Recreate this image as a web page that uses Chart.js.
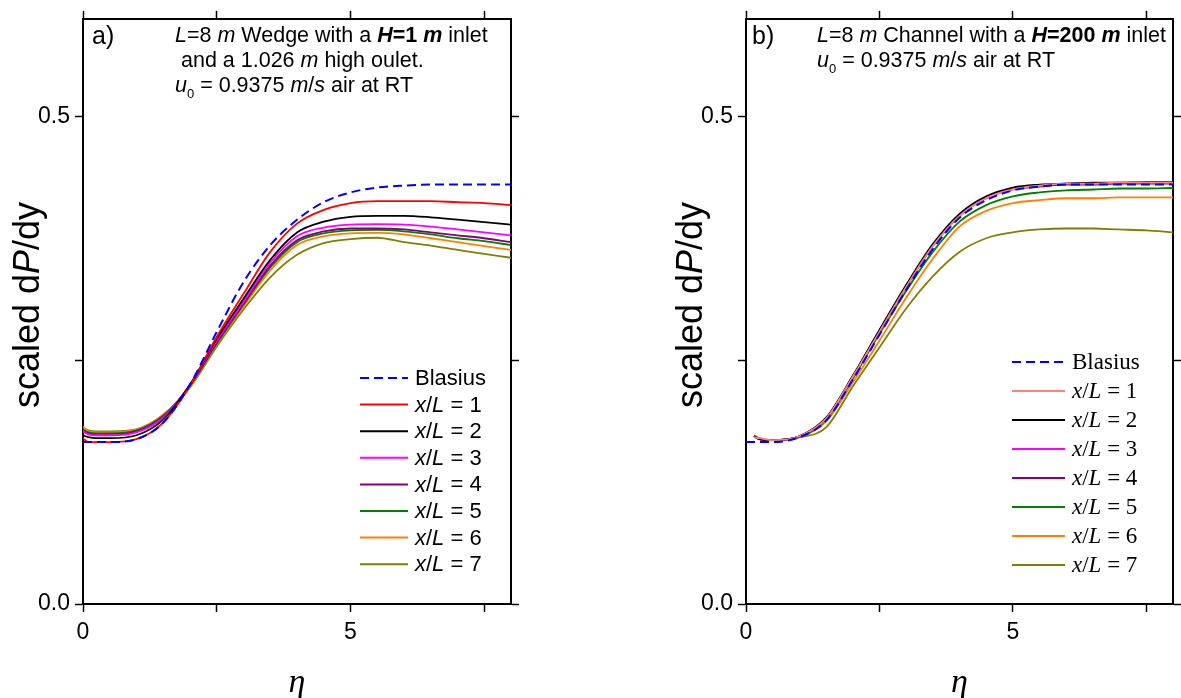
<!DOCTYPE html>
<html>
<head>
<meta charset="utf-8">
<script src="https://cdn.jsdelivr.net/npm/chart.js@4.4.1/dist/chart.umd.min.js"></script>
<style>
  body { margin: 0; background: #fff; }
  #wrap { position: relative; width: 1181px; height: 698px; overflow: hidden; }
  #boxA { position: absolute; left: 0; top: 0; }
  #boxB { position: absolute; left: 662px; top: 0; }
</style>
</head>
<body>
<div id="wrap">
  <div id="boxA"><canvas id="chartA" width="590" height="698"></canvas></div>
  <div id="boxB"><canvas id="chartB" width="519" height="698"></canvas></div>
</div>
<script>
// eta grid
const etaA = [0, 0.1, 0.25, 0.5, 1, 1.5, 2, 2.5, 3, 3.5, 4, 4.5, 5, 5.5, 6, 6.5, 7, 7.5, 8];
const etaB = [0, 0.1, 0.15, 0.25, 0.5, 1, 1.5, 2, 2.5, 3, 3.5, 4, 4.5, 5, 5.5, 6, 6.5, 7, 7.5, 8];

// panel a) wedge, H = 1 m
const blasiusA = [0.166, 0.166, 0.166, 0.166, 0.169, 0.186, 0.225, 0.279, 0.330, 0.368, 0.394, 0.412, 0.422, 0.427, 0.429, 0.430, 0.430, 0.430, 0.430];
const wedge1 = [0.170, 0.166, 0.166, 0.166, 0.169, 0.186, 0.224, 0.274, 0.318, 0.361, 0.390, 0.404, 0.411, 0.413, 0.413, 0.413, 0.412, 0.411, 0.409];
const wedge2 = [0.173, 0.171, 0.170, 0.170, 0.173, 0.189, 0.225, 0.272, 0.313, 0.353, 0.381, 0.392, 0.397, 0.398, 0.398, 0.3965, 0.394, 0.3915, 0.389];
const wedge3 = [0.177, 0.174, 0.173, 0.173, 0.176, 0.191, 0.225, 0.270, 0.310, 0.350, 0.377, 0.386, 0.389, 0.3895, 0.389, 0.387, 0.384, 0.381, 0.378];
const wedge4 = [0.178, 0.175, 0.174, 0.174, 0.177, 0.192, 0.224, 0.268, 0.308, 0.347, 0.373, 0.382, 0.385, 0.385, 0.384, 0.381, 0.378, 0.375, 0.371];
const wedge5 = [0.179, 0.176, 0.175, 0.175, 0.178, 0.193, 0.224, 0.267, 0.307, 0.345, 0.371, 0.380, 0.383, 0.3835, 0.382, 0.379, 0.375, 0.372, 0.368];
const wedge6 = [0.182, 0.177, 0.176, 0.176, 0.179, 0.194, 0.223, 0.266, 0.305, 0.342, 0.368, 0.377, 0.380, 0.3805, 0.379, 0.375, 0.371, 0.367, 0.363];
const wedge7 = [0.181, 0.178, 0.177, 0.177, 0.179, 0.194, 0.222, 0.264, 0.302, 0.335, 0.358, 0.370, 0.374, 0.3755, 0.371, 0.3675, 0.363, 0.359, 0.355];

// panel b) channel, H = 200 m
const blasiusB = [0.166, 0.166, 0.166, 0.166, 0.166, 0.171, 0.188, 0.230, 0.276, 0.322, 0.364, 0.396, 0.414, 0.424, 0.428, 0.430, 0.430, 0.430, 0.430, 0.430];
const chan1 = [null, null, 0.171, 0.170, 0.168, 0.172, 0.190, 0.233, 0.279, 0.325, 0.367, 0.398, 0.416, 0.425, 0.429, 0.431, 0.431, 0.432, 0.432, 0.432];
const chan2 = [null, null, 0.172, 0.169, 0.168, 0.172, 0.191, 0.234, 0.281, 0.327, 0.369, 0.400, 0.418, 0.427, 0.430, 0.431, 0.432, 0.432, 0.4325, 0.4325];
const chan3 = [null, null, 0.172, 0.169, 0.168, 0.172, 0.190, 0.233, 0.280, 0.326, 0.368, 0.399, 0.417, 0.426, 0.429, 0.431, 0.431, 0.432, 0.432, 0.432];
const chan4 = [null, null, 0.172, 0.169, 0.168, 0.172, 0.190, 0.233, 0.279, 0.325, 0.367, 0.398, 0.416, 0.425, 0.428, 0.430, 0.430, 0.431, 0.431, 0.431];
const chan5 = [null, null, 0.172, 0.169, 0.168, 0.171, 0.189, 0.231, 0.277, 0.321, 0.361, 0.392, 0.409, 0.418, 0.422, 0.424, 0.425, 0.426, 0.426, 0.4265];
const chan6 = [null, null, 0.172, 0.169, 0.168, 0.171, 0.187, 0.227, 0.270, 0.314, 0.354, 0.387, 0.403, 0.411, 0.414, 0.416, 0.416, 0.417, 0.417, 0.417];
const chan7 = [null, null, 0.173, 0.170, 0.168, 0.171, 0.181, 0.223, 0.263, 0.303, 0.336, 0.361, 0.375, 0.381, 0.384, 0.385, 0.385, 0.384, 0.383, 0.381];

const seriesLabels = ["Blasius", "x/L = 1", "x/L = 2", "x/L = 3", "x/L = 4", "x/L = 5", "x/L = 6", "x/L = 7"];
const colorsA = ["#0000ff", "#ff0000", "#000000", "#ff00ff", "#800080", "#008000", "#ff8000", "#808000"];
const colorsB = ["#0000ff", "#ff8080", "#000000", "#ff00ff", "#800080", "#008000", "#ff8000", "#808000"];

const xTicks = [0, 2.5, 5, 7.5];
const yTicks = [0, 0.25, 0.5];

const SANS = "'Liberation Sans', Arial, sans-serif";
const SERIF = "'Liberation Serif', 'Times New Roman', serif";

// draw a run of differently styled pieces of text
function drawRich(ctx, segs, x, y, family, size) {
  let cx = x;
  segs.forEach(([text, style, dy, sz]) => {
    ctx.font = `${style || ""} ${sz || size}px ${family}`;
    ctx.fillText(text, cx, y + (dy || 0));
    cx += ctx.measureText(text).width;
  });
}

function legendSegs(label) {
  if (label.startsWith("x/L")) {
    return [["x", "italic"], ["/", ""], ["L", "italic"], [label.slice(3), ""]];
  }
  return [[label, ""]];
}

// legend drawn inside the plot, plus panel notes and y title
const panelDecor = {
  id: "panelDecor",
  afterDraw(chart, args, opts) {
    const ctx = chart.ctx;
    const area = chart.chartArea;
    ctx.save();
    ctx.fillStyle = "#000";
    ctx.textBaseline = "alphabetic";

    // y title
    ctx.save();
    ctx.translate(area.left - 54, 305);
    ctx.rotate(-Math.PI / 2);
    const ySegs = [["scaled d", ""], ["P", "italic"], ["/dy", ""]];
    let w = 0;
    ySegs.forEach(([t, s]) => { ctx.font = `${s} 36px ${SANS}`; w += ctx.measureText(t).width; });
    ctx.textBaseline = "middle";
    drawRich(ctx, ySegs, -w / 2, 0, SANS, 36);
    ctx.restore();

    // panel letter and note lines
    ctx.font = `25px ${SANS}`;
    ctx.fillText(opts.letter, opts.letterX, 44);
    opts.notes.forEach((segs, i) => {
      drawRich(ctx, segs, opts.noteX, 42 + i * 25, SANS, 21.5);
    });

    // legend
    const lg = opts.legend;
    chart.data.datasets.forEach((ds, i) => {
      const y = lg.y + i * lg.step;
      ctx.save();
      ctx.strokeStyle = ds.borderColor;
      ctx.lineWidth = 2;
      ctx.setLineDash(ds.borderDash || []);
      ctx.beginPath();
      ctx.moveTo(lg.x, y);
      ctx.lineTo(lg.x + lg.len, y);
      ctx.stroke();
      ctx.restore();
      ctx.textBaseline = "middle";
      drawRich(ctx, legendSegs(ds.label), lg.x + lg.len + 7, y + 1, lg.family, lg.size);
    });
    ctx.restore();
  }
};

function buildDatasets(eta, series, colors) {
  return series.map((vals, i) => ({
    label: seriesLabels[i],
    data: eta.map((e, k) => ({ x: e, y: vals[k] })),
    borderColor: colors[i],
    borderWidth: i === 0 ? 2 : 1.8,
    borderDash: i === 0 ? [9, 5] : [],
    pointRadius: 0,
    fill: false,
    cubicInterpolationMode: "monotone",
    order: i === 0 ? -1 : i
  }));
}

function axisCommon(extra) {
  return Object.assign({
    type: "linear",
    grid: { drawOnChartArea: false, drawTicks: true, tickLength: 8, tickWidth: 1.5, tickColor: "#000" },
    border: { display: true, color: "#000", width: 2 }
  }, extra);
}

function makePanel(canvasId, datasets, yAxisWidth, rightPad, decor) {
  const ctx = document.getElementById(canvasId).getContext("2d");
  return new Chart(ctx, {
    type: "line",
    data: { datasets: datasets },
    options: {
      responsive: false,
      animation: false,
      spanGaps: false,
      layout: { padding: { left: 0, right: rightPad, top: 0, bottom: 0 } },
      plugins: {
        legend: { display: false },
        tooltip: { enabled: false },
        panelDecor: decor
      },
      scales: {
        x: axisCommon({
          position: "bottom", min: 0, max: 8,
          afterBuildTicks: (axis) => { axis.ticks = xTicks.map((v) => ({ value: v })); },
          afterFit: (axis) => { axis.height = 94; },
          ticks: {
            padding: 7, color: "#000", font: { family: SANS, size: 23 },
            callback: (v) => (v === 0 || v === 5 ? String(v) : "")
          },
          title: {
            display: true, text: "η", color: "#000",
            font: { family: SERIF, size: 34, style: "italic", lineHeight: 0.7 },
            padding: { top: 3, bottom: 3 }
          }
        }),
        x2: axisCommon({
          position: "top", min: 0, max: 8,
          afterBuildTicks: (axis) => { axis.ticks = xTicks.map((v) => ({ value: v })); },
          afterFit: (axis) => { axis.height = 16; },
          ticks: { display: false }
        }),
        y: axisCommon({
          position: "left", min: 0, max: 0.6,
          afterBuildTicks: (axis) => { axis.ticks = yTicks.map((v) => ({ value: v })); },
          afterFit: (axis) => { axis.width = yAxisWidth; },
          ticks: {
            padding: 5, color: "#000", font: { family: SANS, size: 23 },
            callback: (v) => (v === 0 || v === 0.5 ? v.toFixed(1) : "")
          }
        }),
        y2: axisCommon({
          position: "right", min: 0, max: 0.6,
          afterBuildTicks: (axis) => { axis.ticks = yTicks.map((v) => ({ value: v })); },
          afterFit: (axis) => { axis.width = 8; },
          ticks: { display: false }
        })
      }
    },
    plugins: [panelDecor]
  });
}

const uLine = [["u", "italic"], ["0", "", 6, 13], [" = 0.9375 ", ""], ["m", "italic"], ["/", ""], ["s", "italic"], [" air at RT", ""]];

makePanel("chartA",
  buildDatasets(etaA, [blasiusA, wedge1, wedge2, wedge3, wedge4, wedge5, wedge6, wedge7], colorsA),
  83, 71,
  {
    letter: "a)", letterX: 92, noteX: 175,
    notes: [
      [["L", "italic"], ["=8 ", ""], ["m", "italic"], [" Wedge with a ", ""], ["H", "italic bold"], ["=1 ", "bold"], ["m", "italic bold"], [" inlet", ""]],
      [[" and a 1.026 ", ""], ["m", "italic"], [" high oulet.", ""]],
      uLine
    ],
    legend: { x: 360, y: 378, step: 26.6, len: 48, family: SANS, size: 22 }
  });

makePanel("chartB",
  buildDatasets(etaB, [blasiusB, chan1, chan2, chan3, chan4, chan5, chan6, chan7], colorsB),
  84, 0,
  {
    letter: "b)", letterX: 90, noteX: 155,
    notes: [
      [["L", "italic"], ["=8 ", ""], ["m", "italic"], [" Channel with a ", ""], ["H", "italic bold"], ["=200 ", "bold"], ["m", "italic bold"], [" inlet", ""]],
      uLine
    ],
    legend: { x: 350, y: 362, step: 29, len: 53, family: SERIF, size: 23 }
  });
</script>
</body>
</html>
